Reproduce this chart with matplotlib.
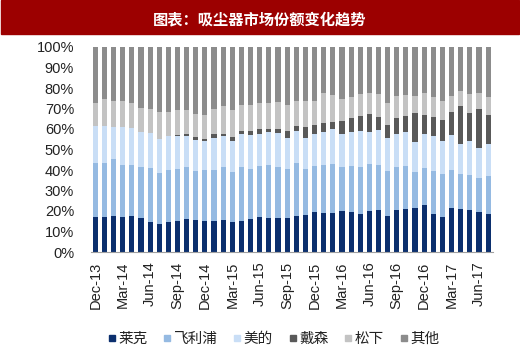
import matplotlib
matplotlib.use('Agg')
import matplotlib.pyplot as plt
from matplotlib.lines import Line2D
import numpy as np

plt.rcParams['font.family'] = ['Liberation Sans', 'Noto Sans CJK SC', 'DejaVu Sans']

# monthly shares (%), Dec-13 .. Jul-17
months = ['Dec-13', 'Jan-14', 'Feb-14', 'Mar-14', 'Apr-14', 'May-14', 'Jun-14', 'Jul-14',
          'Aug-14', 'Sep-14', 'Oct-14', 'Nov-14', 'Dec-14', 'Jan-15', 'Feb-15', 'Mar-15',
          'Apr-15', 'May-15', 'Jun-15', 'Jul-15', 'Aug-15', 'Sep-15', 'Oct-15', 'Nov-15',
          'Dec-15', 'Jan-16', 'Feb-16', 'Mar-16', 'Apr-16', 'May-16', 'Jun-16', 'Jul-16',
          'Aug-16', 'Sep-16', 'Oct-16', 'Nov-16', 'Dec-16', 'Jan-17', 'Feb-17', 'Mar-17',
          'Apr-17', 'May-17', 'Jun-17', 'Jul-17']

laike = [17.3, 17.0, 17.8, 17.0, 17.8, 16.4, 14.7, 13.7, 14.7, 15.1, 16.2, 15.4, 15.2, 15.2, 15.4,
         14.4, 15.2, 16.2, 17.3, 16.7, 16.5, 16.7, 17.8, 18.2, 19.6, 18.8, 18.8, 19.8, 19.5, 18.7,
         20.1, 20.5, 17.7, 20.6, 21.1, 21.3, 22.7, 18.7, 17.0, 21.4, 21.1, 20.3, 19.6, 18.7]
philips = [26.2, 26.5, 27.4, 25.4, 24.8, 25.2, 26.4, 24.9, 25.2, 25.5, 25.2, 24.0, 24.6, 24.7, 26.0,
           24.7, 26.2, 24.4, 24.6, 25.9, 24.9, 23.9, 25.7, 22.1, 22.3, 23.4, 23.9, 21.8, 22.4, 22.7,
           22.9, 22.1, 21.7, 20.8, 20.8, 17.8, 18.1, 20.7, 21.1, 18.4, 17.0, 17.5, 16.6, 18.3]
midea = [17.9, 18.0, 16.0, 18.6, 17.8, 16.7, 16.9, 16.7, 16.7, 16.0, 15.2, 15.3, 14.4, 15.7, 15.2,
         15.2, 16.0, 16.4, 15.9, 15.7, 16.6, 15.2, 15.4, 15.5, 15.9, 16.4, 17.2, 16.2, 16.4, 17.4,
         15.6, 17.0, 16.2, 16.4, 16.7, 14.7, 16.6, 17.2, 16.2, 17.2, 14.4, 16.4, 14.4, 15.9]
dyson = [0, 0, 0, 0, 0, 0, 0, 0, 0, 0.7, 0.8, 1.3, 1.0, 1.8, 1.2,
         1.7, 1.8, 1.9, 2.1, 1.9, 2.2, 3.0, 2.6, 5.4, 4.1, 4.1, 3.6, 6.2, 7.0, 7.6,
         8.5, 6.4, 6.4, 7.5, 7.7, 13.8, 9.5, 9.4, 9.9, 11.1, 18.5, 13.4, 19.1, 14.0]
panasonic = [11.3, 13.0, 12.6, 12.5, 12.1, 12.1, 12.0, 12.8, 11.8, 11.8, 12.0, 11.3, 11.4, 12.3, 13.2,
             13.2, 12.6, 12.9, 12.8, 12.5, 12.8, 13.0, 12.3, 12.3, 11.9, 14.7, 13.1, 10.5, 10.5, 10.7,
             10.5, 11.1, 10.5, 11.0, 10.3, 8.7, 10.7, 9.4, 9.6, 8.2, 7.7, 9.5, 7.7, 8.5]
series = [laike, philips, midea, dyson, panasonic]
other = list(100 - np.sum(series, axis=0))

names = ['莱克', '飞利浦', '美的', '戴森', '松下', '其他']
colors = ['#0B2F6E', '#95BAE2', '#C9DEF6', '#595959', '#C3C3C3', '#8C8C8C']

fig = plt.figure(figsize=(5.2, 3.51), dpi=100)

# red title band
fig.patches.append(plt.Rectangle((0.002, 1 - 34 / 351), 0.996, 34 / 351,
                                 transform=fig.transFigure, color='#9C0000', zorder=0))
fig.text(0.5, 1 - 19 / 351, '图表：吸尘器市场份额变化趋势', color='white', fontsize=11,
         fontweight='bold', ha='center', va='center', family=['Noto Sans CJK SC', 'DejaVu Sans'])

ax = fig.add_axes([90.7 / 520, 1 - 252 / 351, 402 / 520, 205 / 351])
x = np.arange(len(months))
bottom = np.zeros(len(months))
for vals, name, col in zip(series + [other], names, colors):
    ax.bar(x, vals, width=0.56, bottom=bottom, color=col, label=name)
    bottom += np.array(vals)

ax.set_xlim(-0.5, len(months) - 0.5)
ax.set_ylim(0, 100)
ax.set_yticks(range(0, 101, 10))
ax.set_yticklabels([f'{v}%' for v in range(0, 101, 10)])
ax.set_xticks(x[::3])
ax.set_xticklabels(months[::3], rotation=90)
ax.tick_params(axis='y', length=0, pad=12, labelsize=10.5, labelcolor='#222222')
ax.tick_params(axis='x', length=0, pad=7, labelsize=10.5, labelcolor='#222222')
for s in ['top', 'right', 'left']:
    ax.spines[s].set_visible(False)
ax.spines['bottom'].set_color('#A0A0A0')

handles = [Line2D([], [], marker='s', linestyle='none', markersize=5, color=c) for c in colors]
leg = fig.legend(handles, names, loc='center', bbox_to_anchor=(273 / 520, 1 - 339 / 351), ncol=6,
                 frameon=False, handletextpad=0.1, columnspacing=1.0, handlelength=0.7,
                 prop={'family': ['Noto Sans CJK SC', 'DejaVu Sans'], 'size': 10.5})
for t in leg.get_texts():
    t.set_color('#222222')

fig.savefig('out.png', dpi=100)
